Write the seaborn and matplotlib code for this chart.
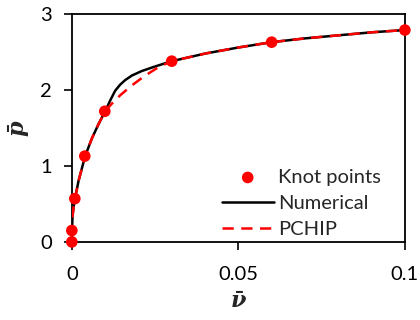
import numpy as np
import pandas as pd
import matplotlib
matplotlib.use("Agg")
import matplotlib.pyplot as plt
import seaborn as sns

# knot points
knot_v = [0.0, 0.0, 0.0009, 0.0039, 0.0099, 0.030, 0.060, 0.100]
knot_p = [0.0, 0.15, 0.57, 1.13, 1.72, 2.38, 2.63, 2.79]

# numerical solution (black)
num_v = [0.0, 0.0, 0.0002, 0.0005, 0.001, 0.002, 0.004, 0.006, 0.008, 0.010,
         0.0115, 0.013, 0.0145, 0.016, 0.018, 0.021, 0.025, 0.030, 0.040,
         0.050, 0.060, 0.070, 0.080, 0.090, 0.100]
num_p = [0.0, 0.15, 0.33, 0.45, 0.58, 0.80, 1.13, 1.36, 1.55, 1.72,
         1.86, 1.99, 2.07, 2.13, 2.19, 2.25, 2.31, 2.38, 2.48,
         2.56, 2.63, 2.68, 2.72, 2.76, 2.79]

# PCHIP curve (red dashed)
pchip_v = [0.0, 0.0, 0.0002, 0.0005, 0.001, 0.002, 0.004, 0.006, 0.008, 0.010,
           0.012, 0.0145, 0.018, 0.022, 0.026, 0.030, 0.040, 0.050, 0.060,
           0.070, 0.080, 0.090, 0.100]
pchip_p = [0.0, 0.15, 0.33, 0.45, 0.58, 0.80, 1.13, 1.36, 1.55, 1.72,
           1.82, 1.93, 2.06, 2.19, 2.30, 2.38, 2.48, 2.56, 2.63,
           2.68, 2.72, 2.76, 2.79]

sns.set_style("ticks")
plt.rcParams["font.family"] = ["Lato", "DejaVu Sans"]
plt.rcParams["mathtext.fontset"] = "custom"
plt.rcParams["mathtext.it"] = "DejaVu Serif:italic:bold"
plt.rcParams["mathtext.rm"] = "DejaVu Serif:bold"

fig = plt.figure(figsize=(4.2, 3.2), dpi=100)
ax = fig.add_axes([0.171, 0.244, 0.793, 0.712])

num_df = pd.DataFrame({"v": num_v, "p": num_p})
pchip_df = pd.DataFrame({"v": pchip_v, "p": pchip_p})
knot_df = pd.DataFrame({"v": knot_v, "p": knot_p})

sns.lineplot(data=num_df, x="v", y="p", ax=ax, color="black", lw=1.8,
             sort=False, label="Numerical", zorder=2)
sns.lineplot(data=pchip_df, x="v", y="p", ax=ax, color="red", lw=1.8,
             sort=False, label="PCHIP", zorder=3)
ax.lines[-1].set_dashes([4.5, 3])
sns.scatterplot(data=knot_df, x="v", y="p", ax=ax, color="red", s=70,
                edgecolor="none", label="Knot points", zorder=4, clip_on=False)

ax.set_xlim(0, 0.1)
ax.set_ylim(0, 3)
ax.set_xticks([0, 0.05, 0.1])
ax.set_xticklabels(["0", "0.05", "0.1"])
ax.set_yticks([0, 1, 2, 3])
ax.tick_params(direction="out", length=5.5, width=1.2, labelsize=14.5,
               colors="black")
ax.tick_params(axis="x", pad=12)
ax.tick_params(axis="y", pad=9)
for s in ax.spines.values():
    s.set_visible(True)
    s.set_linewidth(1.3)
    s.set_color("black")

ax.set_xlabel(r"$\bar{\nu}$", fontsize=16, labelpad=6)
ax.set_ylabel(r"$\bar{p}$", fontsize=16, labelpad=6)

h, l = ax.get_legend_handles_labels()
order = [l.index("Knot points"), l.index("Numerical"), l.index("PCHIP")]
ax.legend([h[i] for i in order], [l[i] for i in order], loc="lower right",
          frameon=False, fontsize=14.5, handlelength=2.6, handletextpad=0.2,
          labelspacing=0.45, borderaxespad=0.3, bbox_to_anchor=(0.97, -0.045))

fig.savefig("out.png", dpi=100)
